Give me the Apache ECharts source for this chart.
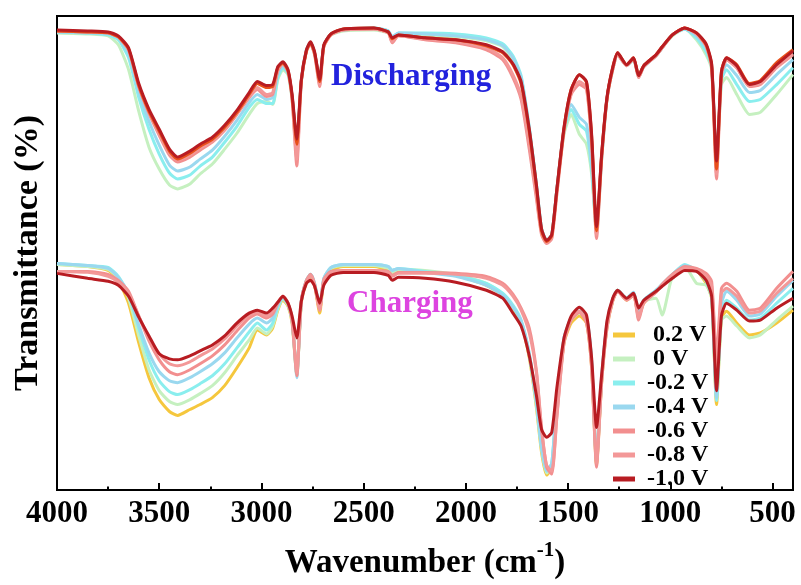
<!DOCTYPE html>
<html><head><meta charset="utf-8">
<script src="https://cdn.jsdelivr.net/npm/echarts@6/dist/echarts.min.js"></script>
<style>html,body{margin:0;padding:0;background:#fff}#c{width:801px;height:585px}</style>
</head><body><div id="c"></div>
<script>
const wavenumbers = [4000,3850,3750,3700,3650,3600,3550,3500,3450,3410,3350,3300,3240,3180,3120,3060,3020,2975,2945,2920,2895,2870,2850,2827,2805,2780,2760,2740,2715,2695,2660,2600,2450,2380,2360,2330,2200,2050,1900,1820,1770,1730,1690,1655,1630,1605,1580,1555,1520,1485,1445,1410,1385,1361,1336,1310,1282,1258,1214,1180,1155,1130,1070,1040,990,930,872,825,798,774,750,725,675,613,560,480,400];
const majorTicks = [4000,3500,3000,2500,2000,1500,1000,500];
const minorTicks = [3750,3250,2750,2250,1750,1250,750];
const legendNames = ['0.2 V','0 V','-0.2 V','-0.4 V','-0.6 V','-0.8 V','-1.0 V'];
const colors = ['#f5c73d','#c5f0c0','#8aeeee','#9ad8ef','#f28f8f','#f39898','#b81c22'];
const dischargeColors = ['#c5f0c0','#8aeeee','#9ad8ef','#f28f8f','#f39898','#e8501a','#b81c22'];

// Discharging spectra (transmittance, arbitrary units)
const dis1 = [460,459,457,448,423,381,345,323,307,303,308,318,328,343,359,378,389,391,388,413,423,418,393,348,411,441,449,439,413,447,458,462,463,460,455,458,457,456,452,446,433,413,363,307,263,251,257,303,358,378,358,348,318,261,333,393,423,438,428,433,417,427,437,445,457,464,453,438,423,328,408,415,398,378,380,398,418];
const dis2 = [461,460,458,453,435,395,363,338,319,313,317,326,335,350,366,385,393,389,389,415,425,419,395,348,411,443,450,439,411,447,459,463,465,462,456,460,460,459,455,449,437,417,365,308,263,251,257,303,361,383,368,361,323,261,333,393,423,438,427,433,416,426,437,445,458,464,455,441,425,328,413,423,408,391,393,408,425];
const dis3 = [461,460,459,455,439,401,371,347,327,321,325,333,342,356,372,390,398,393,395,419,427,420,396,350,412,443,450,440,412,447,459,463,465,462,456,460,459,457,453,447,435,415,364,307,263,251,257,303,363,388,375,368,328,263,335,394,424,439,428,434,416,426,437,445,458,464,457,445,427,328,417,428,417,400,402,418,433];
const dis4 = [462,461,460,456,443,406,379,357,337,330,335,342,350,362,378,395,403,396,398,422,429,421,393,326,411,442,449,438,406,446,458,463,464,460,450,457,453,450,443,433,415,393,343,293,257,248,253,298,361,398,408,403,348,253,333,393,423,438,427,434,415,426,437,445,458,465,459,447,425,313,418,433,425,406,408,425,438];
const dis5 = [462,461,460,456,443,406,380,359,339,332,337,344,351,363,379,396,405,398,400,423,429,421,394,333,411,442,449,439,408,446,458,463,464,460,451,457,454,451,445,435,418,396,348,297,259,249,254,299,362,400,411,405,351,257,335,393,423,438,427,434,415,426,437,445,458,465,459,447,426,318,419,433,425,407,409,426,439];
const dis6 = [462,461,460,456,444,407,381,361,341,333,339,346,353,365,380,398,409,405,406,425,430,422,396,348,412,442,450,440,411,447,459,464,465,461,454,458,455,453,447,440,428,409,361,305,261,250,256,302,364,403,418,410,356,261,337,394,425,440,428,435,417,427,438,446,458,465,460,448,428,323,421,435,428,409,412,430,443];
const dis7 = [463,462,461,457,445,409,383,363,343,335,341,348,355,367,382,400,411,407,408,426,431,423,398,353,413,443,451,441,413,448,459,464,465,461,455,458,455,453,448,441,429,411,363,307,263,251,257,303,365,403,418,411,358,265,338,395,425,440,428,435,417,427,438,446,458,465,460,449,429,331,421,435,427,408,411,428,442];

// Charging spectra
const chg_p02 = [227,225,221,211,188,148,113,91,79,75,81,86,93,105,123,143,161,156,163,181,191,185,168,115,188,209,215,206,178,210,221,225,225,221,217,221,220,216,206,196,183,168,133,83,38,15,23,83,148,168,175,168,123,25,108,163,190,201,191,196,175,188,200,206,216,225,221,208,193,86,173,180,168,156,158,168,181];
const chg_0 = [227,225,222,213,193,155,121,100,89,86,91,97,105,118,135,151,163,157,165,182,192,186,170,118,189,210,216,207,183,211,223,226,226,223,219,222,221,217,208,197,184,169,135,85,41,17,25,88,151,171,178,171,128,28,110,165,191,201,193,198,181,190,193,176,215,225,208,206,193,93,171,175,165,153,156,171,185];
const chg_m02 = [228,226,224,215,197,163,131,110,99,96,101,107,115,127,143,159,168,161,168,184,193,187,171,118,190,211,217,208,185,213,224,227,227,225,221,223,220,216,208,198,186,171,137,88,43,19,27,91,153,173,180,173,130,30,113,167,192,201,193,199,181,191,201,207,217,227,221,210,195,90,178,191,183,171,173,188,203];
const chg_m04 = [228,226,223,214,198,166,138,119,110,108,113,119,127,138,153,167,173,168,173,186,194,187,171,113,190,211,217,208,185,213,224,227,227,225,221,223,219,215,206,196,184,170,137,88,43,19,27,91,153,173,180,173,130,31,113,167,192,201,193,199,180,191,201,207,217,226,221,211,196,93,187,200,191,175,177,195,211];
const chg_m06 = [220,220,217,211,200,175,150,131,119,116,121,127,135,146,160,173,177,173,177,188,195,188,171,115,190,211,217,207,181,212,220,221,221,220,216,219,219,218,215,208,197,183,163,120,63,23,16,73,148,171,179,168,123,23,108,163,190,200,191,196,171,188,199,207,217,225,223,218,210,133,203,208,200,181,183,203,220];
const chg_m08 = [220,219,215,209,198,175,153,137,127,125,129,135,142,152,165,176,179,175,180,189,195,188,171,118,190,210,216,206,181,211,219,220,220,219,215,218,218,217,213,206,195,181,158,118,61,25,19,75,150,173,180,170,126,27,110,165,191,200,192,197,173,189,199,206,216,223,221,215,205,123,198,203,195,178,180,198,213];
const chg_m10 = [218,213,210,206,195,174,155,137,132,131,135,140,146,155,168,178,181,178,183,189,195,188,175,153,190,208,211,205,188,206,216,219,219,216,211,214,213,209,201,193,178,165,135,95,61,53,58,103,153,175,184,176,133,63,116,170,193,201,193,198,183,191,200,205,213,221,220,211,195,100,175,188,181,170,171,183,193];

const dischargeSets = [dis1,dis2,dis3,dis4,dis5,dis6,dis7];
const chargeSets = [chg_p02,chg_0,chg_m02,chg_m04,chg_m06,chg_m08,chg_m10];

const FONT = 'Liberation Serif';
function pairs(vals){ return wavenumbers.map((w,i)=>[w, vals[i]]); }
const series = [];
dischargeSets.forEach((s,i)=>series.push({
  name:'D'+i, type:'line', data:pairs(s), showSymbol:false, smooth:0.2,
  lineStyle:{width:3,color:dischargeColors[i]}, itemStyle:{color:dischargeColors[i]}, silent:true
}));
chargeSets.forEach((s,i)=>series.push({
  name:legendNames[i], type:'line', data:pairs(s), showSymbol:false, smooth:0.2,
  lineStyle:{width:3,color:colors[i]}, itemStyle:{color:colors[i]}, silent:true
}));

const chart = echarts.init(document.getElementById('c'), null, {renderer:'canvas'});
chart.setOption({
  animation:false,
  backgroundColor:'#fff',
  grid:{left:57,right:8,top:16,bottom:92,show:true,borderColor:'#000',borderWidth:2,backgroundColor:'transparent'},
  xAxis:[{
    type:'value', min:400, max:4000, inverse:true, position:'bottom',
    axisLine:{show:false}, splitLine:{show:false},
    axisTick:{show:true, inside:true, length:7, lineStyle:{width:2,color:'#000'}, customValues:majorTicks},
    axisLabel:{customValues:majorTicks, formatter:function(v){return String(v);}, fontSize:31, fontWeight:'bold', fontFamily:FONT, color:'#000', margin:8},
    name:'{a|Wavenumber (cm}{b|-1}{a|)}', nameLocation:'middle', nameGap:50,
    nameTextStyle:{rich:{
      a:{fontSize:33,fontWeight:'bold',fontFamily:FONT,color:'#000',lineHeight:40,verticalAlign:'bottom'},
      b:{fontSize:21,fontWeight:'bold',fontFamily:FONT,color:'#000',lineHeight:40,verticalAlign:'top'}
    }}
  },{
    type:'value', min:400, max:4000, inverse:true, position:'bottom',
    axisLine:{show:false}, splitLine:{show:false}, axisLabel:{show:false},
    axisTick:{show:true, inside:true, length:3.5, lineStyle:{width:2,color:'#000'}, customValues:minorTicks}
  }],
  yAxis:{
    type:'value', min:0, max:477,
    axisLine:{show:false}, axisTick:{show:false}, axisLabel:{show:false}, splitLine:{show:false},
    name:'Transmittance (%)', nameLocation:'middle', nameGap:12,
    nameTextStyle:{fontSize:34,fontWeight:'bold',fontFamily:FONT,color:'#000'}
  },
  legend:{
    data:legendNames, orient:'vertical', left:608, top:318, icon:'rect',
    itemWidth:22, itemHeight:5, itemGap:0, selectedMode:false,
    formatter:function(n){ return (n==='0.2 V'||n==='0 V') ? ' '+n : n; },
    textStyle:{fontSize:24, fontWeight:'bold', fontFamily:FONT, color:'#000', lineHeight:24, padding:[0,0,0,7]}
  },
  graphic:[
    {type:'text', x:331, y:77, style:{text:'Discharging', fontSize:31, fontWeight:'bold', fontFamily:FONT, fill:'#2222dd', align:'left', verticalAlign:'middle'}},
    {type:'text', x:347, y:304, style:{text:'Charging', fontSize:31, fontWeight:'bold', fontFamily:FONT, fill:'#dd44e0', align:'left', verticalAlign:'middle'}}
  ],
  series:series
});
</script></body></html>
